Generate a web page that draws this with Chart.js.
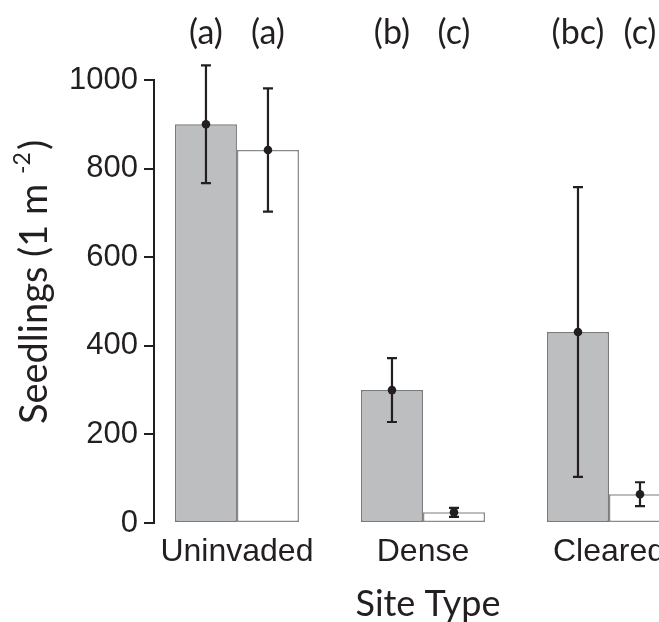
<!DOCTYPE html>
<html>
<head>
<meta charset="utf-8">
<script src="https://cdn.jsdelivr.net/npm/chart.js@4/dist/chart.umd.min.js"></script>
<style>
html, body { margin: 0; padding: 0; overflow: hidden; background: #ffffff; }
#wrap { width: 720px; height: 622px; }
</style>
</head>
<body>
<div id="wrap"><canvas id="c" width="720" height="622"></canvas></div>
<script>
// ---- data ----
const siteTypes = ['Uninvaded', 'Dense', 'Cleared'];
const grayMeans = [900, 300, 431];
const grayErrors = [133, 72, 327];
const whiteMeans = [842, 24, 65];
const whiteErrors = [139, 10, 27];
const grayLetters = ['(a)', '(b)', '(bc)'];
const whiteLetters = ['(a)', '(c)', '(c)'];
const yTicks = [0, 200, 400, 600, 800, 1000];
const yTitleMain = 'Seedlings (1 m ';
const yTitleSup = '-2';
const yTitleEnd = ')';
const xTitle = 'Site Type';

const INK = '#231f20';
const SANS = "'Liberation Sans', Arial, sans-serif";
const HUM = "Lato, 'Open Sans', sans-serif";

const errorPlugin = {
  id: 'errorsAndLabels',
  afterDatasetsDraw(chart) {
    const ctx = chart.ctx;
    const y = chart.scales.y;
    const sets = [[grayMeans, grayErrors, grayLetters], [whiteMeans, whiteErrors, whiteLetters]];
    sets.forEach((s, di) => {
      const meta = chart.getDatasetMeta(di);
      meta.data.forEach((bar, i) => {
        const x = bar.x;
        const m = s[0][i], e = s[1][i];
        const yt = y.getPixelForValue(m + e);
        const yb = y.getPixelForValue(m - e);
        const ym = y.getPixelForValue(m);
        ctx.save();
        ctx.strokeStyle = INK;
        ctx.lineWidth = 2.2;
        ctx.beginPath();
        ctx.moveTo(x, yt); ctx.lineTo(x, yb);
        ctx.moveTo(x - 5, yt); ctx.lineTo(x + 5, yt);
        ctx.moveTo(x - 5, yb); ctx.lineTo(x + 5, yb);
        ctx.stroke();
        ctx.fillStyle = INK;
        ctx.beginPath();
        ctx.arc(x, ym, 4.3, 0, Math.PI * 2);
        ctx.fill();
        // significance letters
        ctx.font = '34px ' + HUM;
        ctx.textAlign = 'center';
        ctx.textBaseline = 'middle';
        ctx.fillText(s[2][i], x, chart.chartArea.top - 47);
        ctx.restore();
      });
    });
    // y-axis title with superscript
    ctx.save();
    const cx = 35, cy = 282;
    ctx.translate(cx, cy);
    ctx.rotate(-Math.PI / 2);
    ctx.fillStyle = INK;
    ctx.textBaseline = 'middle';
    ctx.textAlign = 'left';
    const mainFont = '38px ' + HUM, supFont = '23px ' + HUM;
    ctx.font = mainFont; const w1 = ctx.measureText(yTitleMain).width;
    const w3 = ctx.measureText(yTitleEnd).width;
    ctx.font = supFont; const w2 = ctx.measureText(yTitleSup).width;
    const total = w1 + w2 + w3 + 2;
    let px = -total / 2;
    ctx.font = mainFont; ctx.fillText(yTitleMain, px, 0); px += w1;
    ctx.font = supFont; ctx.fillText(yTitleSup, px, -12); px += w2 + 2;
    ctx.font = mainFont; ctx.fillText(yTitleEnd, px, 0);
    ctx.restore();
  }
};

new Chart(document.getElementById('c'), {
  type: 'bar',
  data: {
    datasets: [
      {
        label: 'gray',
        data: grayMeans.map((v, i) => ({ x: i, y: v })),
        backgroundColor: '#bdbec0',
        borderColor: '#7a7b7e',
        borderWidth: 1.5,
        borderSkipped: false,
        categoryPercentage: 2 / 3,
        barPercentage: 1
      },
      {
        label: 'white',
        data: whiteMeans.map((v, i) => ({ x: i, y: v })),
        backgroundColor: '#ffffff',
        borderColor: '#8a8b8e',
        borderWidth: 1.5,
        borderSkipped: false,
        categoryPercentage: 2 / 3,
        barPercentage: 1
      }
    ]
  },
  options: {
    responsive: false,
    animation: false,
    devicePixelRatio: 1,
    layout: { padding: { left: 0, top: 80, right: 18, bottom: 0 } },
    plugins: { legend: { display: false }, tooltip: { enabled: false } },
    scales: {
      x: {
        type: 'linear',
        min: -0.446,
        max: 2.5,
        offset: false,
        bounds: 'data',
        grace: 0,
        afterBuildTicks: (s) => { s.ticks = siteTypes.map((_, i) => ({ value: i })); },
        grid: { display: false, offset: false },
        border: { display: false },
        ticks: {
          autoSkip: false,
          maxRotation: 0,
          padding: 2,
          color: INK,
          font: { family: SANS, size: 32 },
          callback: (v) => siteTypes[Math.round(v)]
        },
        title: {
          display: true,
          text: xTitle,
          color: INK,
          font: { family: HUM, size: 36, lineHeight: 1 },
          padding: { top: 0, bottom: 0 }
        },
        afterFit: (s) => { s.height = 99; }
      },
      y: {
        min: 0,
        max: 1000,
        afterBuildTicks: (s) => { s.ticks = yTicks.map(v => ({ value: v })); },
        grid: {
          display: true,
          drawOnChartArea: false,
          drawTicks: true,
          tickLength: 10,
          color: INK,
          lineWidth: 2
        },
        border: { display: true, color: INK, width: 2 },
        ticks: {
          padding: 6,
          color: INK,
          font: { family: SANS, size: 31 },
          callback: (v) => String(v)
        },
        afterFit: (s) => { s.width = 154; }
      }
    }
  },
  plugins: [errorPlugin]
});
</script>
</body>
</html>
